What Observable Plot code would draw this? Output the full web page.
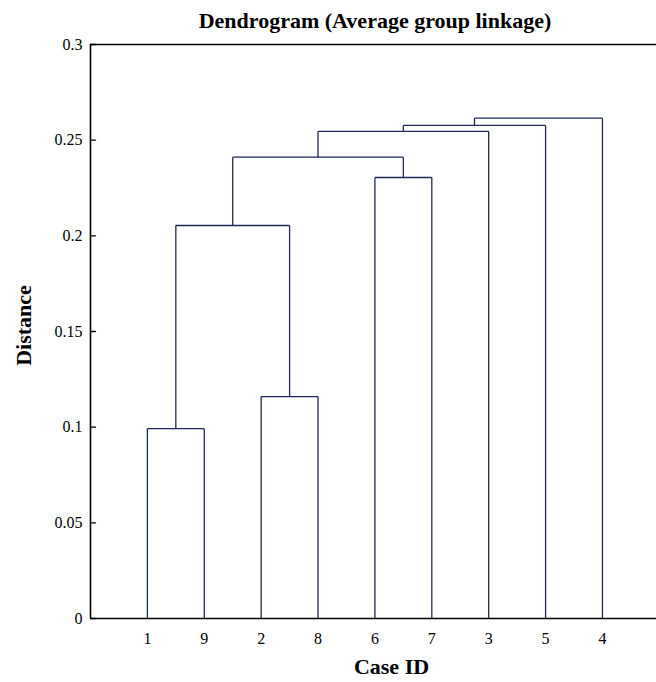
<!DOCTYPE html>
<html><head><meta charset="utf-8">
<script src="https://cdn.jsdelivr.net/npm/d3@7"></script>
<script src="https://cdn.jsdelivr.net/npm/@observablehq/plot@0.6"></script>
<style>
body{margin:0;background:#fff;}
#wrap{position:relative;width:656px;height:682px;overflow:hidden;}
#title{position:absolute;top:10px;left:0;width:750px;text-align:center;font:bold 22px/22px "Liberation Serif",serif;color:#000;z-index:2;}
</style></head><body><div id="wrap"><div id="title">Dendrogram (Average group linkage)</div></div>
<script>
// Leaf order along the x axis (Case IDs)
const caseOrder = ["1","9","2","8","6","7","3","5","4"];
// Merge steps: cluster A joined with cluster B at a distance; merge i creates cluster "c(i+1)"
const mergeA = ["1","2","c1","6","c3","c5","c6","c7"];
const mergeB = ["9","8","c2","7","c4","3","5","4"];
const mergeHeight = [0.0992, 0.116, 0.2054, 0.2305, 0.2411, 0.2546, 0.2577, 0.2615];
// Axis ticks
const yTicks = [0, 0.05, 0.1, 0.15, 0.2, 0.25, 0.3];
const yTickLabels = ["0", "0.05", "0.1", "0.15", "0.2", "0.25", "0.3"];
const xTicks = [1, 2, 3, 4, 5, 6, 7, 8, 9];

const pos = new Map(caseOrder.map((c, i) => [c, {x: i + 1, y: 0}]));
const segs = [];
mergeA.forEach((a, i) => {
  const b = mergeB[i], h = mergeHeight[i];
  const pa = pos.get(a), pb = pos.get(b);
  segs.push({x1: pa.x, y1: pa.y, x2: pa.x, y2: h});
  segs.push({x1: pa.x, y1: h, x2: pb.x, y2: h});
  segs.push({x1: pb.x, y1: pb.y, x2: pb.x, y2: h});
  pos.set("c" + (i + 1), {x: (pa.x + pb.x) / 2, y: h});
});

const tickShape = {draw(ctx, l) { ctx.moveTo(0, 0); ctx.lineTo(0, -l); }};

const chart = Plot.plot({
  width: 656,
  height: 682,
  marginLeft: 90,
  marginRight: 0,
  marginTop: 44,
  marginBottom: 64,
  style: {fontFamily: "'Liberation Serif', serif", fontSize: "16px", color: "#000", background: "#fff"},
  x: {domain: [0, 9.95]},
  y: {domain: [0, 0.3]},
  marks: [
    Plot.link(segs, {x1: "x1", y1: "y1", x2: "x2", y2: "y2", stroke: "#1e2a55", strokeWidth: 1.3}),
    Plot.ruleY([0, 0.3], {stroke: "#000", strokeWidth: 1.6}),
    Plot.ruleX([0], {stroke: "#000", strokeWidth: 1.6}),
    Plot.vector(yTicks, {y: d => d, frameAnchor: "left", rotate: 90, length: 5, anchor: "start", shape: tickShape, stroke: "#000", strokeWidth: 1.4}),
    Plot.axisY({ticks: yTicks, tickFormat: d => yTickLabels[yTicks.indexOf(d)], tickSize: 0, tickPadding: 8, fontSize: 16, label: null}),
    Plot.axisX({ticks: xTicks, tickFormat: d => caseOrder[d - 1], tickSize: 0, tickPadding: 14, fontSize: 16, label: null}),
    Plot.text(["Case ID"], {text: d => d, frameAnchor: "bottom", textAnchor: "middle", dx: 18, dy: 55, fontSize: 22, fontWeight: "bold"}),
    Plot.text(["Distance"], {text: d => d, frameAnchor: "left", textAnchor: "middle", dx: -67, dy: -6, rotate: -90, fontSize: 22, fontWeight: "bold"})
  ]
});
document.getElementById("wrap").appendChild(chart);
</script>
</body></html>
